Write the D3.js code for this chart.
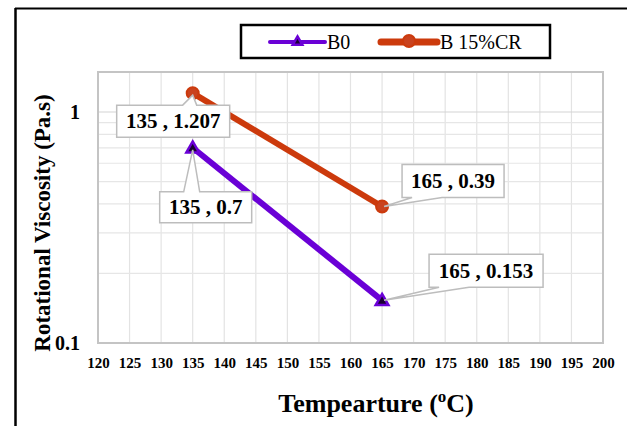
<!DOCTYPE html>
<html>
<head>
<meta charset="utf-8">
<script src="https://cdn.jsdelivr.net/npm/d3@7"></script>
<style>
  body { margin: 0; background: #fff; }
  svg { display: block; }
  svg text { font-family: 'Liberation Serif', 'Times New Roman', Times, serif !important; }
</style>
</head>
<body>
<svg id="chart" width="627" height="426"></svg>
<script>
// data
const seriesNames = ['B0', 'B 15%CR'];
const temps = [135, 165];
const b0Values = [0.7, 0.153];
const crValues = [1.207, 0.39];
const xTicks = [120, 125, 130, 135, 140, 145, 150, 155, 160, 165, 170, 175, 180, 185, 190, 195, 200];
const yTicks = [0.1, 1];
const yGrid = [0.2, 0.3, 0.4, 0.5, 0.6, 0.7, 0.8, 0.9, 1];

const svg = d3.select('#chart');
const margin = { left: 98, right: 24, top: 72, bottom: 83 };
const width = 627, height = 426;

const x = d3.scaleLinear().domain([120, 200]).range([margin.left, width - margin.right]);
const y = d3.scaleLog().domain([0.1, 1.49]).range([height - margin.bottom, margin.top]);

const purple = '#6a00d6';
const red = '#cc3a0c';

// outer frame (left and top only visible)
svg.append('line').attr('x1', 15.5).attr('x2', 15.5).attr('y1', 8).attr('y2', height)
  .attr('stroke', '#000').attr('stroke-width', 2.5);
svg.append('line').attr('x1', 15).attr('x2', width).attr('y1', 8.5).attr('y2', 8.5)
  .attr('stroke', '#000').attr('stroke-width', 2);

// grid
const grid = svg.append('g');
grid.selectAll('.vg').data(xTicks).join('line')
  .attr('x1', d => x(d)).attr('x2', d => x(d))
  .attr('y1', y.range()[1]).attr('y2', y.range()[0])
  .attr('stroke', '#e3e3e3').attr('stroke-width', 1.2);
grid.selectAll('.hg').data(yGrid).join('line')
  .attr('x1', x.range()[0]).attr('x2', x.range()[1])
  .attr('y1', d => y(d)).attr('y2', d => y(d))
  .attr('stroke', d => d === 1 ? '#d4d4d4' : '#e6e6e6').attr('stroke-width', 1.2);

svg.append('rect')
  .attr('x', x.range()[0]).attr('y', y.range()[1])
  .attr('width', x.range()[1] - x.range()[0]).attr('height', y.range()[0] - y.range()[1])
  .attr('fill', 'none').attr('stroke', '#c4c4c4').attr('stroke-width', 2);

// axes tick labels
const xAxis = d3.axisBottom(x).tickValues(xTicks).tickSize(0).tickPadding(14);
const xg = svg.append('g').attr('transform', `translate(0,${y.range()[0]})`).call(xAxis);
xg.select('.domain').remove();
xg.selectAll('text').style('font-size', '15px').style('font-weight', 'bold').attr('fill', '#000');

const yAxis = d3.axisLeft(y).tickValues(yTicks).tickFormat(d => d === 1 ? '1' : '0.1').tickSize(0).tickPadding(18);
const yg = svg.append('g').attr('transform', `translate(${x.range()[0]},0)`).call(yAxis);
yg.select('.domain').remove();
yg.selectAll('text').style('font-size', '20px').style('font-weight', 'bold').attr('fill', '#000');

// axis titles
const xt = svg.append('text').attr('x', 376).attr('y', 412).attr('text-anchor', 'middle')
  .style('font-size', '26px').style('font-weight', 'bold');
xt.append('tspan').text('Tempearture  (');
xt.append('tspan').text('o').style('font-size', '17px').attr('dy', -10);
xt.append('tspan').text('C)').attr('dy', 10);

svg.append('text').attr('transform', 'translate(50,223) rotate(-90)').attr('text-anchor', 'middle')
  .style('font-size', '23px').style('font-weight', 'bold').text('Rotational Viscosity (Pa.s)');

// series lines
const line = d3.line().x(d => x(d[0])).y(d => y(d[1]));
const series = [
  { name: seriesNames[0], pts: d3.zip(temps, b0Values), color: purple, marker: 'tri' },
  { name: seriesNames[1], pts: d3.zip(temps, crValues), color: red, marker: 'circ' }
];

series.forEach(s => {
  svg.append('path').attr('d', line(s.pts)).attr('fill', 'none')
    .attr('stroke', s.color).attr('stroke-width', 6);
});

function drawMarker(g, type, cx, cy, color, size) {
  if (type === 'tri') {
    g.append('path').attr('d', d3.symbol(d3.symbolTriangle, size || 70)())
      .attr('transform', `translate(${cx},${cy + 1})`)
      .attr('fill', '#1a0033').attr('stroke', color).attr('stroke-width', 2.5);
  } else {
    g.append('circle').attr('cx', cx).attr('cy', cy).attr('r', 6)
      .attr('fill', '#c9421e').attr('stroke', color).attr('stroke-width', 2);
  }
}
series.forEach(s => {
  s.pts.forEach(p => drawMarker(svg, s.marker, x(p[0]), y(p[1]), s.color));
});

// data callouts: box offsets relative to the point, wedge base on box edge
const callouts = [
  { t: temps[0], v: crValues[0], dx: -76, dy: 12, w: 113, h: 32, side: 'top', b0: 66, b1: 80 },
  { t: temps[0], v: b0Values[0], dx: -33, dy: 44, w: 92, h: 31, side: 'top', b0: 24, b1: 40 },
  { t: temps[1], v: crValues[1], dx: 20, dy: -42, w: 102, h: 33, side: 'bottom', b0: 10, b1: 40 },
  { t: temps[1], v: b0Values[1], dx: 47, dy: -46, w: 114, h: 33, side: 'bottom', b0: 10, b1: 40 }
];

callouts.forEach(c => {
  const px = x(c.t), py = y(c.v);
  const bx = px + c.dx, by = py + c.dy;
  let pts;
  if (c.side === 'top') {
    pts = [[bx, by], [bx + c.b0, by], [px, py + 2], [bx + c.b1, by], [bx + c.w, by],
      [bx + c.w, by + c.h], [bx, by + c.h]];
  } else {
    pts = [[bx, by], [bx + c.w, by], [bx + c.w, by + c.h], [bx + c.b1, by + c.h],
      [px + 2, py], [bx + c.b0, by + c.h], [bx, by + c.h]];
  }
  svg.append('path').attr('d', 'M' + pts.join('L') + 'Z')
    .attr('fill', '#fff').attr('stroke', '#bdbdbd').attr('stroke-width', 1.5);
  svg.append('text').attr('x', bx + c.w / 2).attr('y', by + c.h / 2 + 7)
    .attr('text-anchor', 'middle').style('font-size', '21px').style('font-weight', 'bold')
    .text(`${c.t} , ${c.v}`);
});

// legend
const lg = svg.append('g');
lg.append('rect').attr('x', 241).attr('y', 25).attr('width', 309).attr('height', 33)
  .attr('fill', '#fff').attr('stroke', '#000').attr('stroke-width', 2.5);
const legendItems = [
  { s: series[0], x0: 270, x1: 325, tx: 327 },
  { s: series[1], x0: 381, x1: 437, tx: 440 }
];
legendItems.forEach(it => {
  lg.append('line').attr('x1', it.x0).attr('x2', it.x1).attr('y1', 42).attr('y2', 42)
    .attr('stroke', it.s.color).attr('stroke-width', it.s.marker === 'tri' ? 4 : 7)
    .attr('stroke-linecap', 'round');
  drawMarker(lg, it.s.marker, (it.x0 + it.x1) / 2, 41, it.s.color, 40);
  lg.append('text').attr('x', it.tx).attr('y', 49).style('font-size', '20px').text(it.s.name);
});
</script>
</body>
</html>
